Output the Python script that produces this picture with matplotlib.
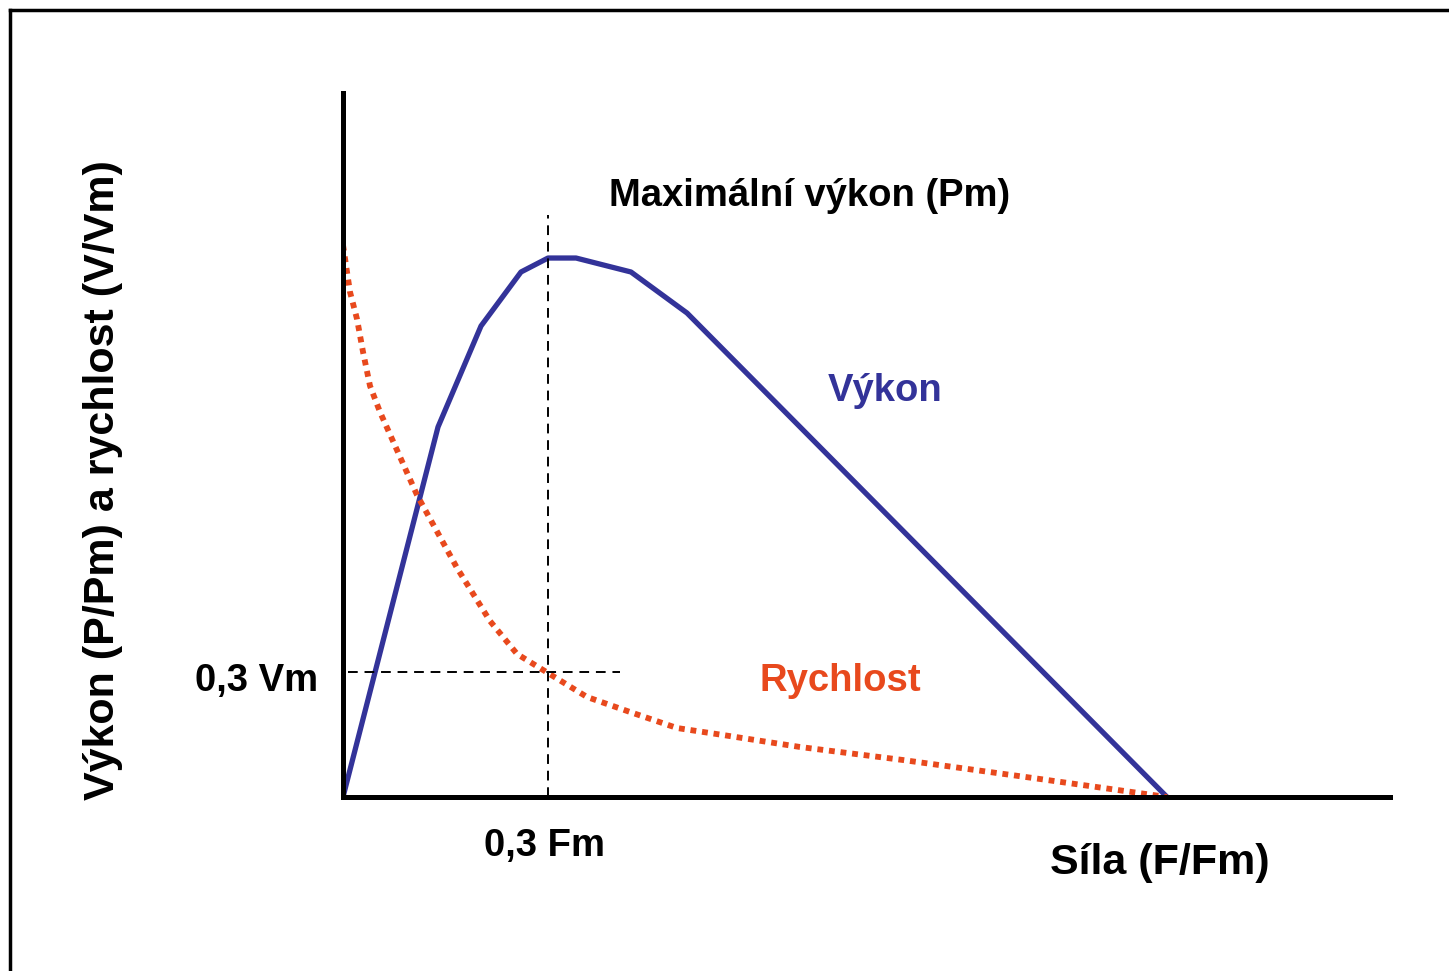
import matplotlib
matplotlib.use("Agg")
import matplotlib.pyplot as plt
from matplotlib.lines import Line2D

plt.rcParams['font.family'] = ['Liberation Sans', 'DejaVu Sans']

# values (F/Fm on x, relative to Vm on y)
sila_vykon = [0.0, 0.1153, 0.1675, 0.2160, 0.2488, 0.2828, 0.3495, 0.4175, 1.0]
vykon = [0.0, 0.6703, 0.8533, 0.9511, 0.9764, 0.9764, 0.9511, 0.8768, 0.0]

sila_rychlost = [0.0, 0.0085, 0.0170, 0.0243, 0.0328, 0.0449, 0.0898, 0.1384,
                 0.1784, 0.2112, 0.2488, 0.2961, 0.3483, 0.4053, 0.4612,
                 0.5546, 0.6796, 0.8374, 1.0]
rychlost = [1.0, 0.9149, 0.8659, 0.8062, 0.7446, 0.6975, 0.5471, 0.4149,
            0.3188, 0.2591, 0.2246, 0.1812, 0.1540, 0.1250, 0.1123,
            0.0906, 0.0670, 0.0344, 0.0]

f_opt = 0.2488   # 0,3 Fm
v_opt = 0.2264   # 0,3 Vm

blue = '#333399'
red = '#E8491D'

fig = plt.figure(figsize=(14.49, 9.71), dpi=100)
ax = fig.add_axes([343 / 1449, 1 - 797 / 971, 1047 / 1449, 704 / 971])

ax.plot(sila_vykon, vykon, color=blue, lw=3.8, solid_joinstyle='round')
ax.plot(sila_rychlost, rychlost, color=red, lw=4.2,
        linestyle=(0, (1.0, 1.0)), dash_capstyle='butt')

# guide lines
ax.plot([f_opt, f_opt], [0, 1.054], color='black', lw=1.4, linestyle=(0, (5, 3.5)))
ax.plot([0.006, 0.336], [v_opt, v_opt], color='black', lw=1.4, linestyle=(0, (5, 3.5)))

ax.set_xlim(0, 1047 / 824)
ax.set_ylim(0, 704 / 552)
for side in ['top', 'right']:
    ax.spines[side].set_visible(False)
for side in ['left', 'bottom']:
    ax.spines[side].set_linewidth(3.6)
ax.set_xticks([])
ax.set_yticks([])

fs = 27.5
fs_big = 31
ax.text(0.5667, 1.0888, 'Maximální výkon (Pm)', ha='center', va='center',
        fontsize=fs, fontweight='bold', clip_on=False)
ax.text(0.6578, 0.7355, 'Výkon', ha='center', va='center',
        fontsize=fs, fontweight='bold', color=blue)
ax.text(0.6032, 0.2102, 'Rychlost', ha='center', va='center',
        fontsize=fs, fontweight='bold', color=red)

fig.text(318 / 1449, 1 - 681 / 971, '0,3 Vm', ha='right', va='center',
         fontsize=fs, fontweight='bold')
fig.text(545 / 1449, 1 - 846 / 971, '0,3 Fm', ha='center', va='center',
         fontsize=fs, fontweight='bold')
fig.text(1160 / 1449, 1 - 863 / 971, 'Síla (F/Fm)', ha='center', va='center',
         fontsize=fs_big, fontweight='bold')
fig.text(103 / 1449, 1 - 480 / 971, 'Výkon (P/Pm) a rychlost (V/Vm)',
         ha='center', va='center', rotation=90, fontsize=fs_big, fontweight='bold')

# frame on top and left edge
fig.add_artist(Line2D([10 / 1449, 1], [1 - 10 / 971, 1 - 10 / 971],
                      color='black', lw=2.5, transform=fig.transFigure))
fig.add_artist(Line2D([10 / 1449, 10 / 1449], [0, 1 - 10 / 971],
                      color='black', lw=2.5, transform=fig.transFigure))

fig.savefig('out.png', dpi=100)
